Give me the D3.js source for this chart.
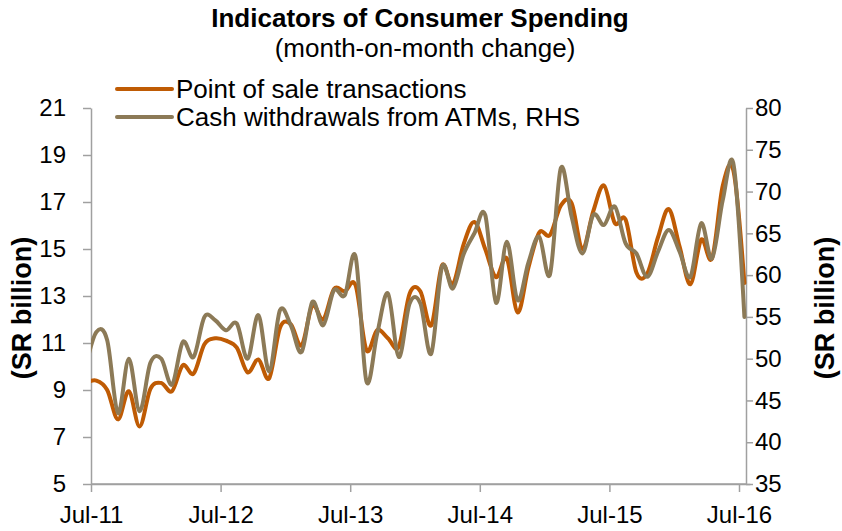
<!DOCTYPE html>
<html>
<head>
<meta charset="utf-8">
<title>Indicators of Consumer Spending</title>
<style>
  body { margin: 0; background: #fff; }
  svg { display: block; font-family: "Liberation Sans", Arial, sans-serif; }
  .axis path, .axis line { stroke: #a0a0a0; stroke-width: 1.5px; }
  .axis text { fill: #000; font-size: 24px; }
  .series { fill: none; stroke-width: 4px; stroke-linejoin: round; stroke-linecap: round; }
</style>
</head>
<body>
<svg width="842" height="531"></svg>
<script src="https://cdn.jsdelivr.net/npm/d3@7"></script>
<script>
// months Jun-11 .. Jul-16 (Jun-11 only shows as the clipped start of the lines)
var months = d3.timeMonth.range(new Date(2011, 5, 1), new Date(2016, 7, 1));
var tickLabels = ["Jul-11", "Jul-12", "Jul-13", "Jul-14", "Jul-15", "Jul-16"];

// SR billion
var posValues = [9.3,
  9.4, 9.0, 7.75, 8.95, 7.45, 9.05, 9.3, 8.95, 10.05, 9.7, 10.95, 11.2,
  11.1, 10.8, 9.75, 10.3, 9.5, 11.65, 11.8, 10.9, 12.6, 12.0, 13.3, 13.2,
  13.45, 10.7, 11.55, 11.2, 10.85, 13.1, 13.2, 11.75, 14.3, 13.5, 15.2, 16.15,
  15.0, 13.8, 14.6, 12.3, 14.2, 15.7, 15.6, 16.85, 16.95, 15.0, 16.6, 17.7,
  16.1, 16.25, 14.0, 13.95, 15.5, 16.7, 15.1, 13.5, 15.4, 14.6, 17.7, 18.3,
  13.55];
var atmValues = [49.0,
  53.2, 52.2, 43.5, 50.0, 43.7, 49.5, 50.0, 46.9, 52.0, 50.2, 55.0, 54.6,
  53.4, 54.2, 50.0, 55.2, 48.5, 55.8, 54.0, 50.8, 56.8, 54.0, 58.2, 57.6,
  62.2, 47.3, 53.0, 57.8, 50.2, 56.6, 56.6, 50.6, 61.0, 58.4, 62.5, 65.0,
  67.2, 56.7, 64.0, 57.0, 61.5, 64.6, 60.1, 72.8, 67.0, 62.6, 67.2, 66.0,
  68.2, 63.8, 62.6, 59.8, 62.8, 65.4, 62.8, 59.8, 66.2, 62.0, 69.0, 73.2,
  55.0];

var leftTicks = [5, 7, 9, 11, 13, 15, 17, 19, 21];
var rightTicks = [35, 40, 45, 50, 55, 60, 65, 70, 75, 80];

var svg = d3.select("svg");
var plotLeft = 91, plotRight = 746, plotTop = 108, plotBottom = 484;

// category axis, points sit between the tick marks
var x = d3.scaleLinear().domain([0.5, months.length - 0.5]).range([plotLeft, plotLeft + 658.8]);
var yL = d3.scaleLinear().domain([5, 21]).range([plotBottom, plotTop]);
var yR = d3.scaleLinear().domain([35, 80]).range([plotBottom, plotTop]);

svg.append("clipPath").attr("id", "plot")
  .append("rect").attr("x", plotLeft).attr("y", 0).attr("width", plotRight + 3 - plotLeft).attr("height", 531);

// axes
svg.append("g").attr("class", "axis").attr("transform", "translate(" + plotLeft + ",0)")
  .call(d3.axisLeft(yL).tickValues(leftTicks).tickSize(8).tickSizeOuter(0).tickPadding(17));

svg.append("g").attr("class", "axis").attr("transform", "translate(" + plotRight + ",0)")
  .call(d3.axisRight(yR).tickValues(rightTicks).tickSize(7).tickSizeOuter(0).tickPadding(2));

svg.append("g").attr("class", "axis").attr("transform", "translate(0," + plotBottom + ")")
  .call(d3.axisBottom(x).tickValues(tickLabels.map(function(d, i) { return 0.5 + 12 * i; }))
    .tickFormat(function(d, i) { return tickLabels[i]; })
    .tickSize(8).tickSizeOuter(0).tickPadding(14));
svg.append("line").attr("x1", plotLeft).attr("x2", plotRight)
  .attr("y1", plotBottom).attr("y2", plotBottom)
  .attr("stroke", "#a0a0a0").attr("stroke-width", 1.5);

// lines
var series = [
  {name: "Point of sale transactions", values: posValues, y: yL, color: "#bf5b04"},
  {name: "Cash withdrawals from ATMs, RHS", values: atmValues, y: yR, color: "#8c7a57"}
];

var g = svg.append("g").attr("clip-path", "url(#plot)");
series.forEach(function(s) {
  var line = d3.line()
    .x(function(d, i) { return x(i); })
    .y(function(d) { return s.y(d); })
    .curve(d3.curveCardinal.tension(0));
  g.append("path").attr("class", "series")
    .attr("stroke", s.color)
    .attr("d", line(s.values));
});

// legend
var legend = svg.append("g").attr("transform", "translate(117,89)");
series.forEach(function(s, i) {
  legend.append("line")
    .attr("x1", 0).attr("x2", 55).attr("y1", i * 28).attr("y2", i * 28)
    .attr("stroke", s.color).attr("stroke-width", 4).attr("stroke-linecap", "round");
  legend.append("text")
    .attr("x", 59).attr("y", i * 28 + 9)
    .attr("font-size", 26)
    .text(s.name);
});

// titles
svg.append("text").attr("x", 420).attr("y", 27).attr("text-anchor", "middle")
  .attr("font-size", 26).attr("font-weight", "bold")
  .text("Indicators of Consumer Spending");
svg.append("text").attr("x", 425).attr("y", 57).attr("text-anchor", "middle")
  .attr("font-size", 26)
  .text("(month-on-month change)");

svg.append("text").attr("transform", "translate(31,308) rotate(-90)")
  .attr("text-anchor", "middle").attr("font-size", 27).attr("font-weight", "bold")
  .text("(SR billion)");
svg.append("text").attr("transform", "translate(834,308) rotate(-90)")
  .attr("text-anchor", "middle").attr("font-size", 27).attr("font-weight", "bold")
  .text("(SR billion)");
</script>
</body>
</html>
